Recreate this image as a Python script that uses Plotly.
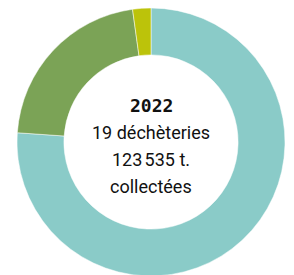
import plotly.graph_objects as go

labels = ["Catégorie A", "Catégorie B", "Catégorie C"]
values = [76.1, 21.7, 2.2]
colors = ["#8ACBC8", "#7BA356", "#BCC30A"]
center_lines = ["2022", "19 déchèteries", "123\u202f535 t.", "collectées"]

W, H = 294, 275
BODY = 8  # default page body margin in the written html
ml, mr, mt, mb = 9, 17, 0, 7
ph = H - mt - mb

fig = go.Figure(go.Pie(
    labels=labels, values=values, hole=0.65, sort=False,
    direction="clockwise", rotation=0,
    marker=dict(colors=colors, line=dict(color="white", width=0.5)),
    textinfo="none", hoverinfo="label+percent", showlegend=False,
))

line_y_px = [105, 132, 159, 186]
fonts = [
    dict(family="DejaVu Sans Mono", size=18, color="#111111", weight="bold"),
    dict(family="Roboto", size=18, color="#111111"),
    dict(family="Roboto", size=18, color="#111111"),
    dict(family="Roboto", size=18, color="#111111"),
]
for txt, ypx, f in zip(center_lines, line_y_px, fonts):
    fig.add_annotation(
        text=txt, x=0.5, y=(ph - (ypx - BODY - mt)) / ph, xref="paper", yref="paper",
        xanchor="center", yanchor="middle", showarrow=False, font=f,
    )

fig.update_layout(
    width=W, height=H, margin=dict(l=ml, r=mr, t=mt, b=mb),
    paper_bgcolor="white", plot_bgcolor="white",
)
fig.write_html("out.html")
